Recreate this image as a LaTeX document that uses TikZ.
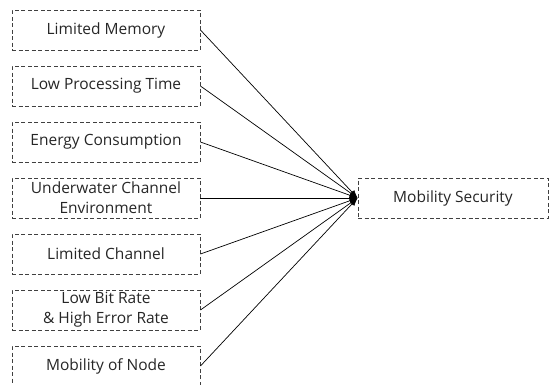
\documentclass[tikz,border=0pt]{standalone}
\usepackage{fontspec}
\setmainfont{Open Sans}
\usetikzlibrary{arrows.meta}
\begin{document}
\begin{tikzpicture}[x=1pt,y=-1pt,
  box/.style={draw=black!75, dash pattern=on 4pt off 2.5pt, line width=0.9pt, minimum width=188pt, minimum height=40pt, inner sep=0pt, align=center, font=\fontsize{15.5}{20}\selectfont, text=black!85},
  conn/.style={line width=0.7pt, -{Latex[length=8pt,width=6pt]}}]
\useasboundingbox (0,0) rectangle (550,384);
\clip (0,0) rectangle (550,384);
\node[box] (a) at (106,30) {Limited Memory};
\node[box] (b) at (106,86) {Low Processing Time};
\node[box] (c) at (106,142) {Energy Consumption};
\node[box] (d) at (106,198) {Underwater Channel\\Environment};
\node[box] (e) at (106,254) {Limited Channel};
\node[box] (f) at (106,310) {Low Bit Rate\\\& High Error Rate};
\node[box] (g) at (106,366) {Mobility of Node};
\node[box, minimum width=190pt] (m) at (453,198) {Mobility Security};
\foreach \n in {a,b,c,d,e,f,g}{\draw[conn] (\n.east) -- (m.west);}
\end{tikzpicture}
\end{document}
